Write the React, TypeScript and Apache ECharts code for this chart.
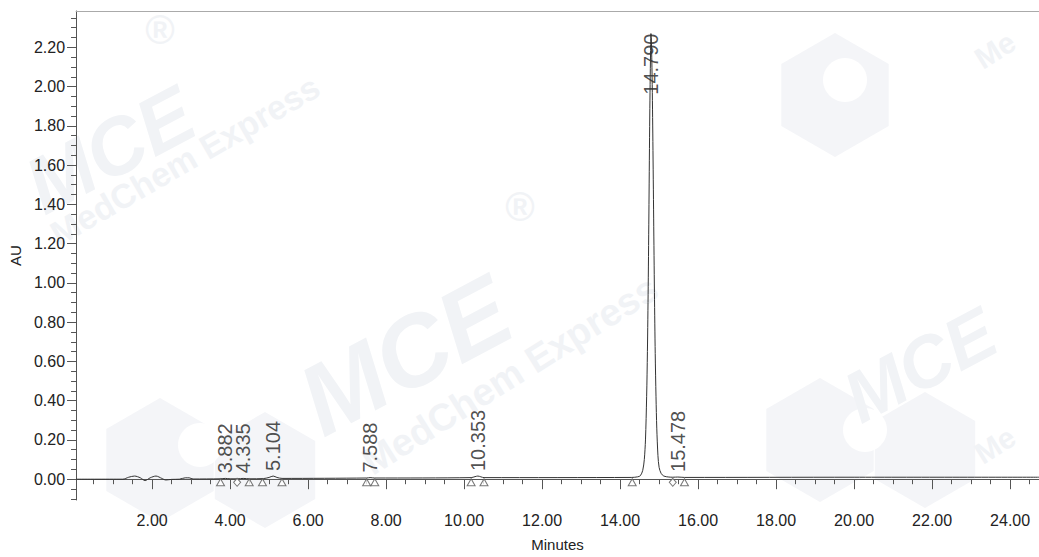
import React, { useEffect, useRef } from "react";
import * as echarts from "echarts";

// Chromatogram trace (minutes, AU)
const traceTimes = [
  0.05, 1.25, 1.4, 1.55, 1.7, 1.82, 1.95, 2.1, 2.25, 2.35, 2.5, 2.7, 2.85, 2.95, 3.05,
  3.75, 3.88, 4.0, 4.2, 4.335, 4.5, 4.85, 5.0, 5.104, 5.2, 5.33,
  7.5, 7.588, 7.7,
  10.18, 10.28, 10.353, 10.43, 10.51,
  14.3, 14.45, 14.52, 14.58, 14.62, 14.65, 14.68, 14.7, 14.72, 14.74, 14.76, 14.78, 14.79,
  14.8, 14.82, 14.84, 14.86, 14.88, 14.9, 14.92, 14.94, 14.97, 15.0, 15.05, 15.12, 15.25,
  15.35, 15.478, 15.65, 20.0, 24.74,
];
const traceValues = [
  0.0, 0.0, 0.01, 0.016, 0.007, -0.007, 0.007, 0.016, 0.004, -0.004, -0.001, 0.0, 0.007, 0.007, 0.001,
  0.002, 0.004, 0.002, 0.002, 0.004, 0.002, 0.003, 0.009, 0.016, 0.009, 0.004,
  0.006, 0.008, 0.006,
  0.008, 0.013, 0.016, 0.012, 0.008,
  0.009, 0.012, 0.018, 0.045, 0.1, 0.2, 0.42, 0.65, 0.98, 1.4, 1.85, 2.17, 2.27,
  2.25, 2.05, 1.72, 1.33, 0.95, 0.64, 0.42, 0.26, 0.12, 0.06, 0.03, 0.016, 0.011,
  0.01, 0.011, 0.009, 0.01, 0.01,
];

// Integrated peaks
const peakTimes = [3.882, 4.335, 5.104, 7.588, 10.353, 14.79, 15.478];
const peakLabels = ["3.882", "4.335", "5.104", "7.588", "10.353", "14.790", "15.478"];
const peakHeights = [0.004, 0.004, 0.016, 0.008, 0.016, 2.27, 0.011];

// Peak start/end markers
const triangleTimes = [3.755, 4.49, 4.83, 5.33, 7.5, 7.71, 10.18, 10.51, 14.31, 15.65];
const diamondTimes = [4.18, 15.35];
const markerLevel = -0.016;

// Axis ticks
const xMajorTicks = [2, 4, 6, 8, 10, 12, 14, 16, 18, 20, 22, 24];
const yMajorTicks = [0, 0.2, 0.4, 0.6, 0.8, 1.0, 1.2, 1.4, 1.6, 1.8, 2.0, 2.2];

const X_MIN = 0.05;
const X_MAX = 24.74;
const Y_MIN = -0.106;
const Y_MAX = 2.385;

const FONT = "'Liberation Sans', Arial, sans-serif";
const WM = "#f1f3f6";

function hexagon(cx: number, cy: number, r: number): number[][] {
  const pts: number[][] = [];
  for (let i = 0; i < 6; i++) {
    const a = (Math.PI / 3) * i - Math.PI / 2;
    pts.push([cx + r * Math.cos(a), cy + r * Math.sin(a)]);
  }
  return pts;
}

export default function App() {
  const ref = useRef<HTMLDivElement>(null);

  useEffect(() => {
    document.body.style.margin = "0";
    if (!ref.current) return;
    const chart = echarts.init(ref.current, null, { renderer: "svg" });

    const xMinor: number[] = [];
    for (let v = 0.5; v < X_MAX; v += 0.5) xMinor.push(Math.round(v * 100) / 100);
    const yMinor: number[] = [];
    for (let v = -0.1; v < Y_MAX; v += 0.05) yMinor.push(Math.round(v * 1000) / 1000);

    const tickColor = "#555";
    const labelColor = "#222";

    const wmText = (x: number, y: number, text: string, size: number, rot: number, italic = false) => ({
      type: "text",
      x,
      y,
      rotation: (rot * Math.PI) / 180,
      z: 0,
      silent: true,
      style: {
        text,
        fill: WM,
        font: `${italic ? "italic " : ""}bold ${size}px ${FONT}`,
        align: "center",
        verticalAlign: "middle",
      },
    });
    const wmHex = (cx: number, cy: number, r: number) => ({
      type: "polygon",
      z: 0,
      silent: true,
      shape: { points: hexagon(cx, cy, r) },
      style: { fill: "#f4f5f8" },
    });
    const wmCircle = (cx: number, cy: number, r: number) => ({
      type: "circle",
      z: 0,
      silent: true,
      shape: { cx, cy, r },
      style: { fill: "#ffffff" },
    });

    chart.setOption({
      animation: false,
      backgroundColor: "#fff",
      graphic: [
        wmHex(160, 460, 62),
        wmHex(265, 470, 58),
        wmCircle(200, 445, 22),
        wmHex(835, 95, 62),
        wmCircle(845, 80, 22),
        wmHex(820, 440, 62),
        wmHex(925, 450, 58),
        wmCircle(865, 430, 22),
        wmText(110, 150, "MCE", 80, 28, true),
        wmText(185, 160, "MedChem Express", 34, 30),
        wmText(160, 30, "®", 40, 0),
        wmText(405, 355, "MCE", 100, 28, true),
        wmText(510, 375, "MedChem Express", 38, 32),
        wmText(520, 207, "®", 40, 0),
        wmText(920, 365, "MCE", 72, 28, true),
        wmText(995, 445, "Me", 30, 32),
        wmText(995, 50, "Me", 30, 32),
      ],
      grid: { left: 76, right: 0, top: 11, bottom: 54, containLabel: false },
      xAxis: [
        {
          type: "value",
          min: X_MIN,
          max: X_MAX,
          position: "bottom",
          name: "Minutes",
          nameLocation: "middle",
          nameGap: 37,
          nameTextStyle: { color: labelColor, fontSize: 15, fontFamily: FONT },
          axisLine: { show: true, lineStyle: { color: tickColor, width: 1 } },
          axisTick: { show: true, customValues: xMajorTicks, length: 10, lineStyle: { color: tickColor } },
          axisLabel: {
            show: true,
            customValues: xMajorTicks,
            formatter: (v: number) => v.toFixed(2),
            color: labelColor,
            fontSize: 16,
            fontFamily: FONT,
            margin: 12,
          },
          splitLine: { show: false },
        },
        {
          type: "value",
          min: X_MIN,
          max: X_MAX,
          position: "bottom",
          axisLine: { show: false },
          axisTick: { show: true, customValues: xMinor, length: 5, lineStyle: { color: tickColor } },
          axisLabel: { show: false },
          splitLine: { show: false },
        },
        {
          type: "value",
          min: X_MIN,
          max: X_MAX,
          position: "top",
          axisLine: { show: true, lineStyle: { color: "#aaa", width: 1 } },
          axisTick: { show: false },
          axisLabel: { show: false },
          splitLine: { show: false },
        },
      ],
      yAxis: [
        {
          type: "value",
          min: Y_MIN,
          max: Y_MAX,
          position: "left",
          name: "AU",
          nameLocation: "middle",
          nameGap: 53,
          nameTextStyle: { color: labelColor, fontSize: 15, fontFamily: FONT },
          axisLine: { show: true, lineStyle: { color: tickColor, width: 1 } },
          axisTick: { show: true, customValues: yMajorTicks, length: 9, lineStyle: { color: tickColor } },
          axisLabel: {
            show: true,
            customValues: yMajorTicks,
            formatter: (v: number) => v.toFixed(2),
            color: labelColor,
            fontSize: 16,
            fontFamily: FONT,
            margin: 11,
          },
          splitLine: { show: false },
        },
        {
          type: "value",
          min: Y_MIN,
          max: Y_MAX,
          position: "left",
          axisLine: { show: false },
          axisTick: { show: true, customValues: yMinor, length: 5, lineStyle: { color: tickColor } },
          axisLabel: { show: false },
          splitLine: { show: false },
        },
      ],
      series: [
        {
          type: "line",
          xAxisIndex: 0,
          yAxisIndex: 0,
          data: traceTimes.map((t, i) => [t, traceValues[i]]),
          showSymbol: false,
          symbol: "none",
          smooth: 0.3,
          lineStyle: { color: "#333", width: 1 },
          z: 3,
        },
        {
          type: "scatter",
          xAxisIndex: 0,
          yAxisIndex: 0,
          data: triangleTimes.map((t) => [t, markerLevel]),
          symbol: "triangle",
          symbolSize: [8, 7],
          itemStyle: { color: "#fff", borderColor: "#555", borderWidth: 1 },
          z: 4,
        },
        {
          type: "scatter",
          xAxisIndex: 0,
          yAxisIndex: 0,
          data: diamondTimes.map((t) => [t, markerLevel]),
          symbol: "diamond",
          symbolSize: [7, 8],
          itemStyle: { color: "#fff", borderColor: "#555", borderWidth: 1 },
          z: 4,
        },
        {
          type: "scatter",
          xAxisIndex: 0,
          yAxisIndex: 0,
          data: peakTimes.map((t, i) => ({
            value: [t, peakHeights[i]],
            label:
              i === 5
                ? { align: "right", distance: 0, position: "inside" }
                : { align: "left", distance: 5, position: "top" },
          })),
          symbol: "circle",
          symbolSize: 0.1,
          itemStyle: { color: "transparent" },
          label: {
            show: true,
            formatter: (p: any) => peakLabels[p.dataIndex],
            rotate: 90,
            verticalAlign: "middle",
            color: labelColor,
            fontSize: 20,
            fontFamily: FONT,
          },
          z: 2,
        },
      ],
    });

    return () => {
      chart.dispose();
    };
  }, []);

  return <div ref={ref} style={{ width: 1039, height: 557 }} />;
}
